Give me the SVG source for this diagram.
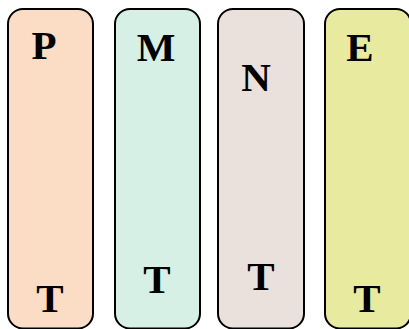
<svg xmlns="http://www.w3.org/2000/svg" width="409" height="329" viewBox="0 0 409 329">
<style>
.box{stroke:#000;stroke-width:2}
.lbl{font-family:"Liberation Serif","DejaVu Serif",serif;font-weight:bold;font-size:41px;text-anchor:middle;fill:#000}
</style>
<rect width="409" height="329" fill="#fff"/>
<g id="node-p">
<rect class="box" x="8" y="9" width="85" height="319.5" rx="15" fill="#FBDCC4"/>
<text class="lbl" x="44" y="59">P</text>
<text class="lbl" x="50" y="312">T</text>
</g>
<g id="node-m">
<rect class="box" x="115" y="9" width="85" height="319.5" rx="15" fill="#D7F0E6"/>
<text class="lbl" x="156" y="61">M</text>
<text class="lbl" x="157" y="293">T</text>
</g>
<g id="node-n">
<rect class="box" x="218" y="9" width="86" height="319.5" rx="15" fill="#EBE1DC"/>
<text class="lbl" x="256" y="91">N</text>
<text class="lbl" x="261" y="290">T</text>
</g>
<g id="node-e">
<rect class="box" x="325" y="9" width="86" height="319.5" rx="15" fill="#E8EAA0"/>
<text class="lbl" x="360" y="61">E</text>
<text class="lbl" x="367" y="312">T</text>
</g>
<g id="connectors"></g>
</svg>
